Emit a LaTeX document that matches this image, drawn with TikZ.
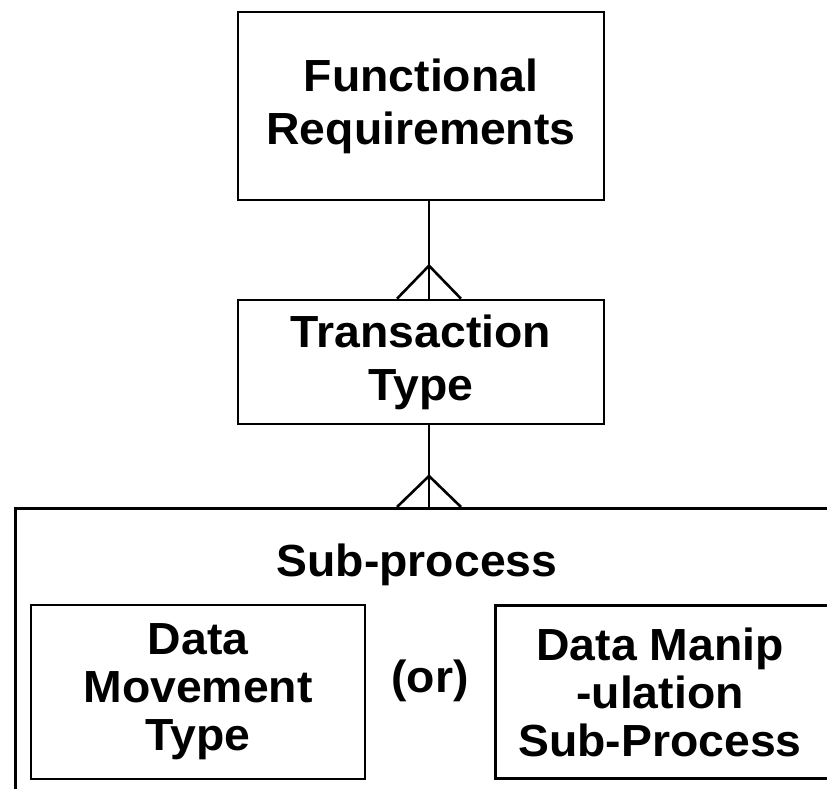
\documentclass[tikz,border=0pt]{standalone}
\usepackage{fontspec}
\setmainfont[FakeStretch=1.03]{Liberation Sans}
\usetikzlibrary{positioning}

\tikzset{
  box/.style={draw, line width=2.6pt, inner sep=0pt},
  txt/.style={align=center, font=\bfseries\fontsize{45}{53}\selectfont, inner sep=0pt},
  subtxt/.style={txt, font=\bfseries\fontsize{45}{48}\selectfont},
  conn/.style={line width=2.6pt}
}

\begin{document}
\begin{tikzpicture}[x=1pt,y=-1pt]
  \useasboundingbox (0,0) rectangle (827,788);
  \clip (0,0) rectangle (827,788);

  % top two entities
  \node[box, txt, minimum width=366pt, minimum height=188pt] (fr) at (421,106) {Functional\\Requirements};
  \node[box, txt, minimum width=366pt, minimum height=124pt] (tt) at (421,362) {Transaction\\Type};

  % sub-process container, runs off the page
  \node[box, anchor=north west, minimum width=860pt, minimum height=320pt] (sub) at (14,507) {};
  \node[txt] (sublbl) at (417,565) {Sub-process};

  \node[box, subtxt, minimum width=334pt, minimum height=174pt] (dm) at (198,692) {Data\\Movement\\Type};
  \node[txt] (or) at (430,681) {(or)};
  \node[box, anchor=west, minimum width=380pt, minimum height=173pt] (dmp) at (494,692) {};
  \node[subtxt] (dmptxt) at (660,692) {Data Manip\\-ulation\\Sub-Process};

  % one to many
  \draw[conn] ([xshift=8pt]fr.south) -- ([xshift=8pt]tt.north);
  \draw[conn] ([xshift=-24pt]tt.north) -- ([xshift=8pt,yshift=33pt]tt.north) -- ([xshift=40pt]tt.north);

  \coordinate (c2) at ([xshift=8pt]tt.south);
  \coordinate (f2) at (c2 |- sub.north);
  \draw[conn] (c2) -- (f2);
  \draw[conn] ([xshift=-32pt]f2) -- ([yshift=31pt]f2) -- ([xshift=32pt]f2);
\end{tikzpicture}
\end{document}
